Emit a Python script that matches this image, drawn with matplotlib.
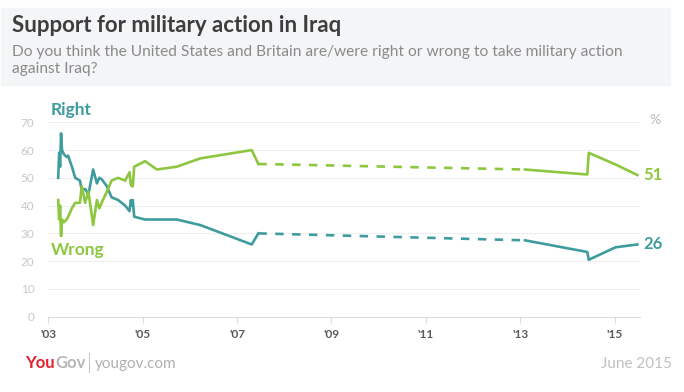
import matplotlib.pyplot as plt
from matplotlib.patches import Rectangle

# poll dates (decimal years) and shares (%)
years = [2003.21, 2003.23, 2003.25, 2003.27, 2003.29, 2003.33, 2003.39, 2003.42,
         2003.50, 2003.57, 2003.67, 2003.71, 2003.78, 2003.85, 2003.95, 2004.03,
         2004.08, 2004.13, 2004.24, 2004.34, 2004.48, 2004.63, 2004.72, 2004.75,
         2004.77, 2004.79, 2004.82, 2005.05, 2005.30, 2005.72, 2006.22, 2007.31,
         2007.45, 2013.10, 2014.42, 2014.45, 2015.02, 2015.48]
right = [50, 59, 54, 66, 60, 58.5, 57.5, 58, 54, 50, 49, 45.5, 46, 44, 53, 48,
         50, 49.5, 47, 43, 42, 40, 38, 42, 40, 42, 36, 35, 35, 35, 33, 26,
         30, 27.5, 23.3, 20.5, 25, 26]
wrong = [42, 35, 40, 29, 35, 34, 35, 36, 39, 41, 41, 47, 41, 45, 33, 42,
         39, 41, 45, 49, 50, 49, 52, 47.5, 47, 47, 54, 56, 53, 54, 57, 60,
         55, 53, 51.2, 59, 54.8, 51]
gap_start, gap_end = 32, 33          # no polling between these: dashed
xticks = [2003, 2005, 2007, 2009, 2011, 2013, 2015]
xlabels = ["'03", "'05", "'07", "'09", "'11", "'13", "'15"]

TEAL = "#3f9c9e"
GREEN = "#8dc63f"
FONT = "Lato"

fig = plt.figure(figsize=(6.84, 3.92), dpi=100)
W, H = 684, 392

# header band
fig.patches.append(Rectangle((1 / W, 1 - 85 / H), 669 / W, 77 / H,
                             transform=fig.transFigure, color="#f4f5f7", zorder=0))
fig.text(12 / W, 1 - 31.5 / H, "Support for military action in Iraq", family=FONT,
         fontweight="bold", fontsize=16, color="#3d3d3d", va="baseline")
fig.text(12 / W, 1 - 56 / H,
         "Do you think the United States and Britain are/were right or wrong to take military action",
         family=FONT, fontsize=11.2, color="#8a8a8a", va="baseline")
fig.text(12 / W, 1 - 72.5 / H, "against Iraq?", family=FONT,
         fontsize=11.2, color="#8a8a8a", va="baseline")

ax = fig.add_axes([48.3 / W, 1 - 316.7 / H, (640 - 48.3) / W, (316.7 - 122.3) / H])
ax.set_xlim(2003, 2003 + (640 - 48.3) / 47.2)
ax.set_ylim(0, 70)

for vals, col in [(right, TEAL), (wrong, GREEN)]:
    ax.plot(years[:gap_start + 1], vals[:gap_start + 1], color=col, lw=1.9,
            clip_on=False)
    ax.plot(years[gap_start:gap_end + 1], vals[gap_start:gap_end + 1], color=col,
            lw=1.9, ls=(0, (3.2, 3.2)), clip_on=False)
    ax.plot(years[gap_end:], vals[gap_end:], color=col, lw=1.9, clip_on=False)

for s in ["top", "right", "left"]:
    ax.spines[s].set_visible(False)
ax.spines["bottom"].set_color("#dddddd")
ax.set_yticks(range(0, 71, 10))
ax.grid(axis="y", color="#efefef", lw=0.8)
ax.tick_params(axis="y", length=0, pad=10, labelsize=8.5, labelcolor="#c8c8c8")
ax.set_xticks(xticks)
ax.set_xticklabels(xlabels, fontweight="bold", color="#5a5a5a", fontsize=8.5,
                   family=FONT)
ax.tick_params(axis="x", length=4, color="#dddddd", pad=5)
for lab in ax.get_yticklabels():
    lab.set_family(FONT)

# series labels
ax.text(2003.05, 74.5, "Right", color=TEAL, fontweight="bold", fontsize=12.5,
        family=FONT, va="center")
ax.text(2003.05, 23.9, "Wrong", color=GREEN, fontweight="bold", fontsize=12.5,
        family=FONT, va="center")
ax.text(years[-1] + 0.13, wrong[-1], f"{wrong[-1]:.0f}", color=GREEN,
        fontweight="bold", fontsize=12, family=FONT, va="center")
ax.text(years[-1] + 0.13, right[-1], f"{right[-1]:.0f}", color=TEAL,
        fontweight="bold", fontsize=12, family=FONT, va="center")
ax.text(1.025, 70.8, "%", transform=ax.get_yaxis_transform(), color="#b8b8b8",
        fontsize=10, family=FONT, ha="center", va="center")

# footer
you = fig.text(25 / W, 1 - 368 / H, "You", color="#e4202c", fontweight="bold",
               fontsize=12, family=FONT, va="baseline")
r = fig.canvas.get_renderer()
x_gov = you.get_window_extent(r).x1 / W + 0.5 / W
fig.text(x_gov, 1 - 368 / H, "Gov", color="#b6b6b6", fontweight="bold",
         fontsize=12, family=FONT, va="baseline")
fig.add_artist(plt.Line2D([89.3 / W, 89.3 / W], [1 - 372 / H, 1 - 353 / H],
                          color="#c8c8c8", lw=0.8))
fig.text(95 / W, 1 - 368 / H, "yougov.com", color="#b0b0b0", fontsize=11,
         family=FONT, va="baseline")
fig.text(672 / W, 1 - 368 / H, "June 2015", color="#c0c0c0", fontsize=11,
         family=FONT, va="baseline", ha="right")

fig.savefig("out.png", dpi=100)
